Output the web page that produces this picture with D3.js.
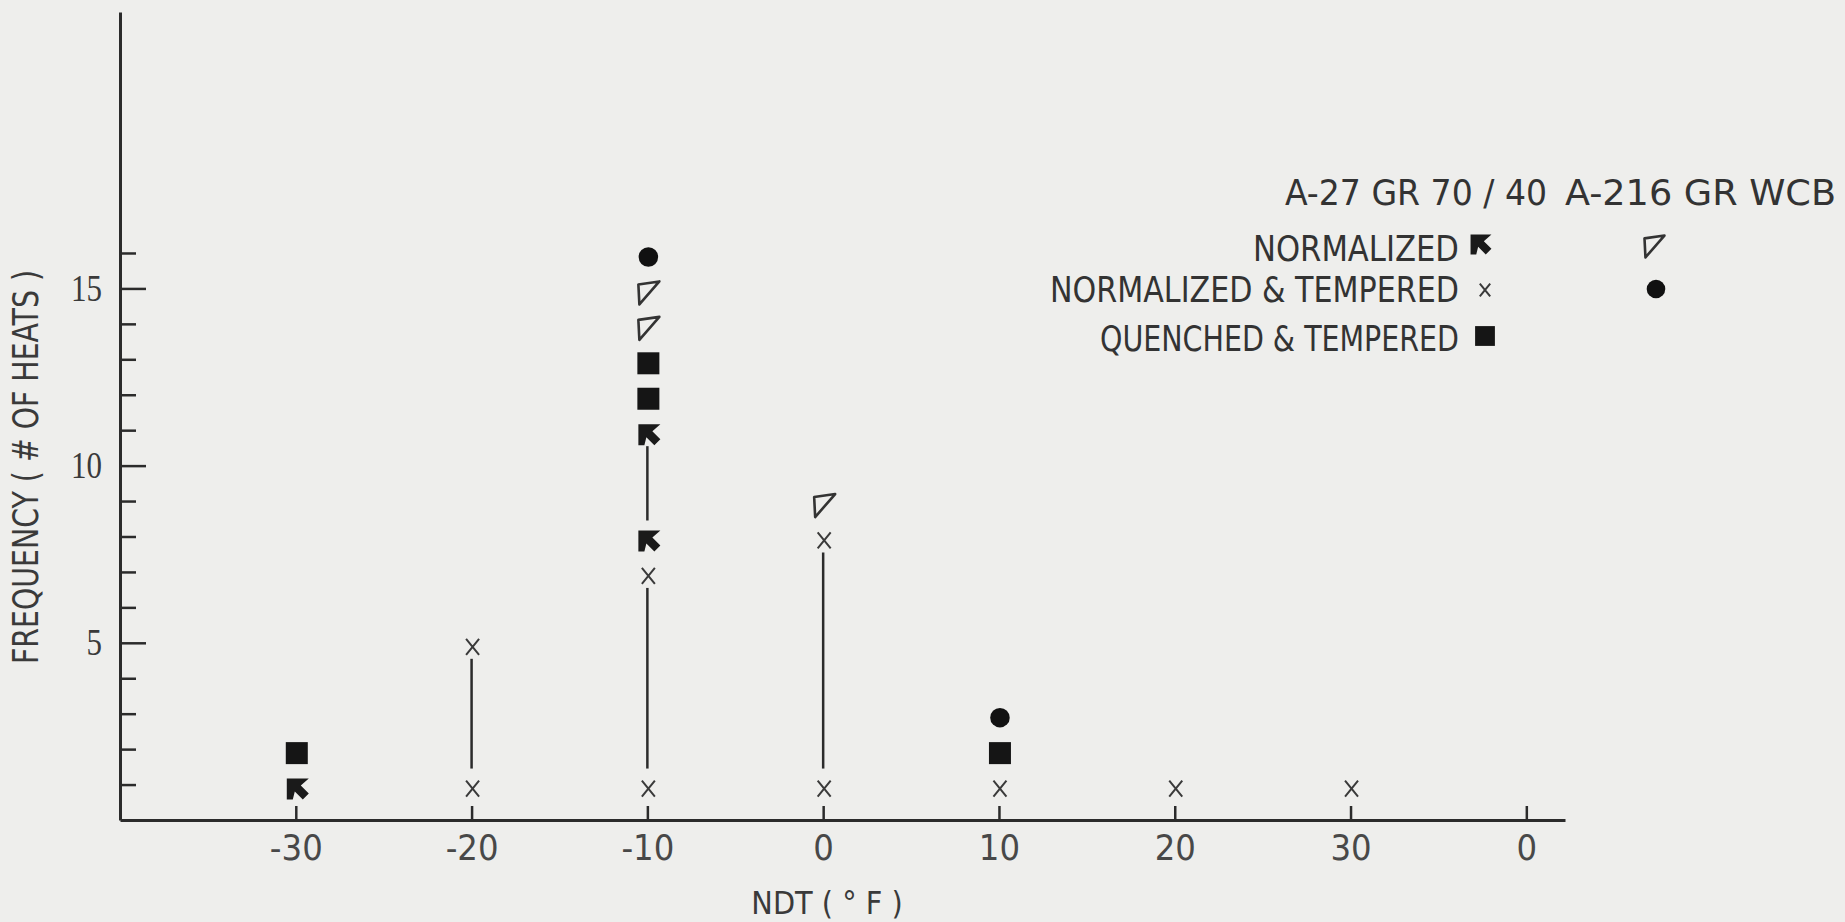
<!DOCTYPE html>
<html>
<head>
<meta charset="utf-8">
<script src="https://cdn.jsdelivr.net/npm/d3@7"></script>
<style>
  html, body { margin: 0; padding: 0; background: #eeeeec; }
  svg { display: block; }
  .sans { font-family: "Liberation Sans Narrow", "DejaVu Sans Condensed", "Roboto Condensed", sans-serif; font-stretch: condensed; }
  .serif { font-family: "Liberation Serif", "DejaVu Serif", serif; }
</style>
</head>
<body>
<svg id="chart" width="1845" height="922"></svg>
<script>
// ---- Data ----
const xTickValues = [-30, -20, -10, 0, 10, 20, 30, 40];
const xTickLabels = ["-30", "-20", "-10", "0", "10", "20", "30", "0"];
const yMajorTicks = [5, 10, 15];
const yMinorTicks = [1, 2, 3, 4, 6, 7, 8, 9, 11, 12, 13, 14, 16];

// A-27 GR 70/40
const a27NormX = [-30, -10, -10];
const a27NormY = [1, 8, 11];
const a27NTX = [-20, -20, -10, -10, 0, 0, 10, 20, 30];
const a27NTY = [1, 5, 1, 7, 1, 8, 1, 1, 1];
const a27QTX = [-30, -10, -10, 10];
const a27QTY = [2, 12, 13, 2];
// A-216 GR WCB
const a216NormX = [-10, -10, 0];
const a216NormY = [14, 15, 9];
const a216NTX = [-10, 10];
const a216NTY = [16, 3];

// Range connectors (x, from, to)
const rangeX = [-20, -10, -10, 0];
const rangeLo = [1, 1, 8, 1];
const rangeHi = [5, 7, 11, 8];

const legendHeaders = ["A-27 GR 70 / 40", "A-216 GR WCB"];
const legendRows = ["NORMALIZED", "NORMALIZED & TEMPERED", "QUENCHED & TEMPERED"];

// ---- Drawing ----
const ink = "#2b2b2b";
const svg = d3.select("#chart");
svg.append("rect").attr("width", 1845).attr("height", 922).attr("fill", "#eeeeec");

const x = d3.scaleLinear().domain([-40, 42.2]).range([120, 1565]);
const y = d3.scaleLinear().domain([0, 22.8]).range([820, 12]);

// x axis
const xAxis = d3.axisBottom(x)
  .tickValues(xTickValues)
  .tickFormat((d, i) => xTickLabels[i])
  .tickSizeInner(-14).tickSizeOuter(0).tickPadding(14);
const gx = svg.append("g").attr("transform", "translate(0,820)").call(xAxis);
gx.select(".domain").attr("stroke", ink).attr("stroke-width", 3);
gx.selectAll(".tick line").attr("stroke", ink).attr("stroke-width", 2.5);
gx.selectAll(".tick text").attr("class", "sans").attr("font-size", 36).attr("fill", "#484848");

// y axis minor
const yMinor = d3.axisLeft(y).tickValues(yMinorTicks).tickFormat("")
  .tickSizeInner(-16).tickSizeOuter(0);
const gyMinor = svg.append("g").attr("transform", "translate(120,0)").call(yMinor);
gyMinor.selectAll(".tick line").attr("stroke", ink).attr("stroke-width", 2.5);
gyMinor.select(".domain").attr("stroke", ink).attr("stroke-width", 3);

// y axis major
const yMajor = d3.axisLeft(y).tickValues(yMajorTicks).tickFormat(d3.format("d"))
  .tickSizeInner(-26).tickSizeOuter(0).tickPadding(18);
const gyMajor = svg.append("g").attr("transform", "translate(120,0)").call(yMajor);
gyMajor.select(".domain").remove();
gyMajor.selectAll(".tick line").attr("stroke", ink).attr("stroke-width", 2.5);
gyMajor.selectAll(".tick text").attr("class", "serif").attr("font-size", 38)
  .attr("fill", "#3a3a3a")
  .attr("textLength", d => String(d).length * 15.5).attr("lengthAdjust", "spacingAndGlyphs");

// axis titles
svg.append("text").attr("class", "sans")
  .attr("transform", "translate(38,467) rotate(-90)")
  .attr("text-anchor", "middle").attr("font-size", 36).attr("fill", "#3a3a3a")
  .attr("textLength", 394).attr("lengthAdjust", "spacingAndGlyphs")
  .text("FREQUENCY ( # OF HEATS )");
svg.append("text").attr("class", "sans")
  .attr("x", 827).attr("y", 914)
  .attr("text-anchor", "middle").attr("font-size", 32).attr("fill", "#3a3a3a")
  .text("NDT ( ° F )");

// range connector lines
const gap = 16;
svg.append("g").selectAll("line").data(rangeX).join("line")
  .attr("x1", d => x(d)).attr("x2", d => x(d))
  .attr("y1", (d, i) => y(rangeLo[i]) - gap)
  .attr("y2", (d, i) => y(rangeHi[i]) + gap)
  .attr("stroke", ink).attr("stroke-width", 2.5);

// marker drawing helpers
const dy = 4;
function flag(g, cx, cy, s) {
  const p = [[0,0],[22,0],[14,7],[22,15],[16,21],[8,13],[6,21],[0,21]]
    .map(([a,b]) => [cx - 11*s + a*s, cy - 10*s + b*s]);
  g.append("path").attr("d", d3.line()(p) + "Z").attr("fill", "#1a1a1a");
}
function cross(g, cx, cy, s) {
  g.append("path")
    .attr("d", `M${cx-6.5*s},${cy-8*s}L${cx+6.5*s},${cy+8*s}M${cx+6.5*s},${cy-8*s}L${cx-6.5*s},${cy+8*s}`)
    .attr("stroke", "#3a3a3a").attr("stroke-width", 2).attr("fill", "none");
}
function square(g, cx, cy, s) {
  g.append("rect").attr("x", cx - 11*s).attr("y", cy - 11*s)
    .attr("width", 22*s).attr("height", 22*s).attr("fill", "#151515");
}
function tri(g, cx, cy, s) {
  const p = [[-10,-8],[11,-11],[-9,12]].map(([a,b]) => [cx + a*s, cy + b*s]);
  g.append("path").attr("d", d3.line()(p) + "Z")
    .attr("fill", "none").attr("stroke", "#333").attr("stroke-width", 2.6).attr("stroke-linejoin", "round");
}
function dot(g, cx, cy, s) {
  g.append("path").attr("d", d3.symbol().type(d3.symbolCircle).size(300*s*s)())
    .attr("transform", `translate(${cx},${cy})`).attr("fill", "#111");
}

const gm = svg.append("g");
a27NormX.forEach((v, i) => flag(gm, x(v) + 2, y(a27NormY[i]) + dy, 1));
a27NTX.forEach((v, i) => cross(gm, x(v) + 1, y(a27NTY[i]) + dy, 1));
a27QTX.forEach((v, i) => square(gm, x(v) + 1, y(a27QTY[i]) + dy, 1));
a216NormX.forEach((v, i) => tri(gm, x(v) + 1, y(a216NormY[i]) + dy, 1));
a216NTX.forEach((v, i) => dot(gm, x(v) + 1, y(a216NTY[i]) + dy, 1));

// legend
const gl = svg.append("g").attr("class", "sans").attr("fill", "#333");
gl.append("text").attr("x", 1285).attr("y", 205).attr("font-size", 36)
  .attr("textLength", 262).attr("lengthAdjust", "spacingAndGlyphs").text(legendHeaders[0]);
gl.append("text").attr("x", 1565).attr("y", 205).attr("font-size", 36)
  .attr("textLength", 271).attr("lengthAdjust", "spacingAndGlyphs").text(legendHeaders[1]);
const rowY = [248, 289, 338];
const rowW = [206, 409, 359];
legendRows.forEach((t, i) => {
  gl.append("text").attr("x", 1459).attr("y", rowY[i] + 13).attr("font-size", 36)
    .attr("text-anchor", "end")
    .attr("textLength", rowW[i]).attr("lengthAdjust", "spacingAndGlyphs").text(t);
});
flag(gl, 1481, 244, 0.95);
cross(gl, 1485, 290, 0.8);
square(gl, 1485, 336, 0.9);
tri(gl, 1654, 246, 0.95);
dot(gl, 1656, 289, 0.95);
</script>
</body>
</html>
